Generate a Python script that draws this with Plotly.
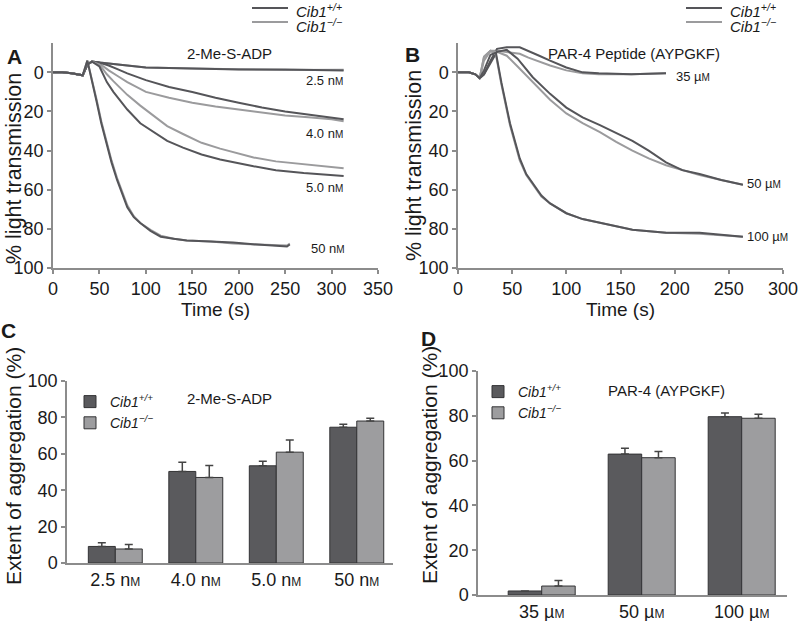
import plotly.graph_objects as go

W, H = 800, 621
FONT = "Liberation Sans, Arial, sans-serif"
DARK = "#555559"
LIGHT = "#9b9b9d"
AXIS = "#8c8c8c"
TXT = "#1a1a1a"

# ---------------- Panel A : 2-Me-S-ADP traces ----------------
A_t_25 = [0, 10, 20, 28, 32, 37, 42, 50, 60, 80, 100, 150, 200, 250, 313]
A_wt_25 = [0, 0, 0.5, 1, 1.5, -4, -5.5, -5, -4.5, -3.5, -2.5, -2, -1.5, -1.5, -1]
A_ko_25 = [0, 0, 0.5, 1, 1.5, -4, -5.5, -5, -4.5, -3.5, -2.5, -2, -1.5, -1.2, -1.3]

A_t_40 = [0, 10, 20, 28, 32, 37, 42, 50, 60, 70, 80, 100, 125, 150, 175, 200, 225, 250, 275, 300, 313]
A_wt_40 = [0, 0, 0.5, 1, 1.5, -4, -5.5, -5, -3.5, -1.5, 0.5, 4, 7.5, 10, 13, 15.5, 18, 20, 21.5, 23, 24]
A_ko_40 = [0, 0, 0.5, 1, 1.5, -4, -5.5, -4.5, -1, 2, 5, 10, 13, 15.5, 17.5, 19, 20.5, 22, 23, 24, 25]

A_t_50 = [0, 10, 20, 28, 32, 37, 42, 50, 58, 65, 72, 80, 94, 110, 123, 140, 160, 180, 200, 216, 240, 270, 313]
A_wt_50 = [0, 0, 0.5, 1, 1.5, -4, -5.5, -3, 5, 10, 14, 19, 26, 31, 35, 38.5, 42, 44.5, 46.5, 48, 50, 51.5, 53]
A_ko_50 = [0, 0, 0.5, 1, 1.5, -4, -5.5, -4, 1, 4.5, 8, 11.5, 17, 23, 27.5, 31.5, 36, 39, 41.5, 43.5, 45.5, 47, 49]

A_t_500 = [0, 10, 20, 28, 32, 37, 42, 47, 52, 58, 63, 69, 75, 80, 87, 94, 105, 116, 130, 144, 170, 194, 220, 252, 255]
A_wt_500 = [0, 0, 0.5, 1, 1.5, -6, 4, 15, 26, 37, 46, 55, 63, 69, 74, 77, 81, 84, 85, 86, 86.5, 87, 88, 89, 88]
A_ko_500 = [0, 0, 0.5, 1, 1.5, -6, 3.5, 14, 25, 36, 45, 54, 62, 68, 73.5, 77, 80.5, 83.5, 85, 86, 86.5, 87.5, 88, 88.5, 87.5]

SM = "<span style='font-size:10px'>M</span>"
A_labels = ["2.5 n" + SM, "4.0 n" + SM, "5.0 n" + SM, "50 n" + SM]
A_label_t = [292, 292, 292, 296]
A_label_v = [4, 31, 59, 90]

# ---------------- Panel B : PAR-4 peptide traces ----------------
B_t_35 = [0, 10, 16, 20, 24, 30, 36, 45, 57, 65, 75, 85, 100, 115, 130, 160, 192]
B_wt_35 = [0, 0, 1, 3, 1, -6, -12, -12.8, -12.8, -11, -8.5, -6, -2.5, 0, 0.5, 1, 0.5]
B_ko_35 = [0, 0, 1, 3, -8, -11, -11, -10.5, -9.5, -7.5, -5.5, -3.5, -1, 0.5, 1, 1, 0.5]

B_t_50 = [0, 10, 16, 20, 24, 30, 36, 45, 55, 69, 85, 100, 115, 131, 146, 161, 176, 192, 207, 223, 243, 263]
B_wt_50 = [0, 0, 1, 3, 1, -5, -10.5, -11.5, -7, 2.5, 11, 18, 23, 27, 31, 35, 40, 46, 50, 52, 55, 57.5]
B_ko_50 = [0, 0, 1, 3, -8, -11, -10.5, -8.5, -3, 5, 14, 21, 26, 30.5, 35.5, 40, 44, 47.5, 50, 52.5, 55, 57.5]

B_t_100 = [0, 10, 16, 20, 24, 30, 35, 40, 48, 57, 63, 69, 77, 85, 100, 115, 131, 146, 161, 192, 223, 263]
B_wt_100 = [0, 0, 1, 3, -1, -9, -10, 5, 26, 44, 52, 57, 63, 67, 72, 75, 77, 79, 80.5, 82, 82, 84]
B_ko_100 = [0, 0, 1, 3, -6, -11, -9, 6, 27, 45, 52.5, 57.5, 63.5, 67, 72, 75, 77, 79, 80.5, 82, 82.5, 84]

B_labels = ["35 µ" + SM, "50 µ" + SM, "100 µ" + SM]
B_label_t = [199, 265, 265]
B_label_v = [2, 57, 84]

# ---------------- Panel C : bar chart 2-Me-S-ADP ----------------
SM2 = "<span style='font-size:12px'>M</span>"
C_cats = ["2.5 n" + SM2, "4.0 n" + SM2, "5.0 n" + SM2, "50 n" + SM2]
C_wt = [9.1, 50.3, 53.4, 74.6]
C_wt_err = [2.0, 5.0, 2.5, 1.6]
C_ko = [7.7, 47.0, 60.9, 78.0]
C_ko_err = [2.4, 6.6, 6.7, 1.5]

# ---------------- Panel D : bar chart PAR-4 ----------------
D_cats = ["35 µ" + SM2, "50 µ" + SM2, "100 µ" + SM2]
D_wt = [1.8, 62.9, 79.6]
D_wt_err = [0.0, 2.6, 1.6]
D_ko = [4.0, 61.3, 78.9]
D_ko_err = [2.5, 2.8, 1.8]

WT_NAME = "<i>Cib1<sup>+/+</sup></i>"
KO_NAME = "<i>Cib1<sup>−/−</sup></i>"

fig = go.Figure()


def add_pair(t, wt, ko, xa, ya):
    fig.add_trace(go.Scatter(x=t, y=ko, mode="lines", line=dict(color=LIGHT, width=2),
                             name=KO_NAME, showlegend=False, xaxis=xa, yaxis=ya))
    fig.add_trace(go.Scatter(x=t, y=wt, mode="lines", line=dict(color=DARK, width=2),
                             name=WT_NAME, showlegend=False, xaxis=xa, yaxis=ya))


add_pair(A_t_25, A_wt_25, A_ko_25, "x", "y")
add_pair(A_t_40, A_wt_40, A_ko_40, "x", "y")
add_pair(A_t_50, A_wt_50, A_ko_50, "x", "y")
add_pair(A_t_500, A_wt_500, A_ko_500, "x", "y")

add_pair(B_t_35, B_wt_35, B_ko_35, "x2", "y2")
add_pair(B_t_50, B_wt_50, B_ko_50, "x2", "y2")
add_pair(B_t_100, B_wt_100, B_ko_100, "x2", "y2")


def add_bars(cats, wt, wte, ko, koe, xa, ya, legend):
    fig.add_trace(go.Bar(x=cats, y=wt, name=WT_NAME, marker=dict(color="#5a5a5d", line=dict(color="#333335", width=1)),
                         error_y=dict(type="data", array=wte, arrayminus=[0] * len(wte), color="#444",
                                      thickness=1.5, width=4),
                         legend=legend, xaxis=xa, yaxis=ya))
    fig.add_trace(go.Bar(x=cats, y=ko, name=KO_NAME, marker=dict(color="#9d9d9f", line=dict(color="#333335", width=1)),
                         error_y=dict(type="data", array=koe, arrayminus=[0] * len(koe), color="#444",
                                      thickness=1.5, width=4),
                         legend=legend, xaxis=xa, yaxis=ya))


add_bars(C_cats, C_wt, C_wt_err, C_ko, C_ko_err, "x3", "y3", "legend")
add_bars(D_cats, D_wt, D_wt_err, D_ko, D_ko_err, "x4", "y4", "legend2")


def px(p):
    return p / W


def py(p):
    return 1 - p / H


tickfont = dict(family=FONT, size=18, color=TXT)
common = dict(showline=True, linecolor=AXIS, linewidth=1.5, ticks="outside", tickcolor=AXIS,
              ticklen=4, tickwidth=1.5, showgrid=False, zeroline=False, tickfont=tickfont,
              automargin=False)
xtitle = dict(text="Time (s)", font=dict(family=FONT, size=19, color=TXT), standoff=2)

layout = dict(
    width=W, height=H, margin=dict(l=0, r=0, t=0, b=0, autoexpand=False),
    paper_bgcolor="white", plot_bgcolor="white",
    font=dict(family=FONT, color=TXT),
    barmode="group", bargap=0.33, bargroupgap=0,
    xaxis=dict(domain=[px(53), px(378)], range=[0, 350], dtick=50, anchor="y", title=xtitle, **common),
    yaxis=dict(domain=[py(268), py(43)], range=[100, -15], tickvals=[0, 20, 40, 60, 80, 100], anchor="x", **common),
    xaxis2=dict(domain=[px(458), px(783)], range=[0, 300], dtick=50, anchor="y2", title=xtitle, **common),
    yaxis2=dict(domain=[py(268), py(43)], range=[100, -15], tickvals=[0, 20, 40, 60, 80, 100], anchor="x2", **common),
    xaxis3=dict(domain=[px(67), px(393)], range=[-0.6, 3.45], anchor="y3", **{**common, "ticks": ""}),
    yaxis3=dict(domain=[py(563), py(381)], range=[0, 100], dtick=20, anchor="x3", **common),
    xaxis4=dict(domain=[px(478), px(787)], range=[-0.637, 2.453], anchor="y4", **{**common, "ticks": ""}),
    yaxis4=dict(domain=[py(595), py(371)], range=[0, 100], dtick=20, anchor="x4", **common),
    legend=dict(x=px(70), y=py(386), xanchor="left", yanchor="top", bgcolor="rgba(0,0,0,0)",
                font=dict(family=FONT, size=14, color=TXT), tracegroupgap=0, itemwidth=30),
    legend2=dict(x=px(478), y=py(376), xanchor="left", yanchor="top", bgcolor="rgba(0,0,0,0)",
                 font=dict(family=FONT, size=14, color=TXT), tracegroupgap=0, itemwidth=30),
)
fig.update_layout(**layout)

ann = []
for lab, t, v in zip(A_labels, A_label_t, A_label_v):
    ann.append(dict(x=t, y=v, xref="x", yref="y", text=lab, showarrow=False, xanchor="center",
                    yanchor="middle", font=dict(family=FONT, size=13, color=TXT)))
for lab, t, v in zip(B_labels, B_label_t, B_label_v):
    ann.append(dict(x=t, y=v, xref="x2", yref="y2", text=lab, showarrow=False, xanchor="left",
                    yanchor="middle", font=dict(family=FONT, size=13, color=TXT)))

# line-style keys for panels A and B (short key lines + their labels)
shapes = []
for x0 in [252, 686]:
    for yy, ty, col, name in [(8, 11, DARK, WT_NAME), (22, 26, LIGHT, KO_NAME)]:
        shapes.append(dict(type="line", xref="paper", yref="paper", x0=px(x0), x1=px(x0 + 36),
                           y0=py(yy), y1=py(yy), line=dict(color=col, width=2)))
        ann.append(dict(x=px(x0 + 42), y=py(ty), xref="paper", yref="paper", text=name, showarrow=False,
                        xanchor="left", yanchor="middle", font=dict(family=FONT, size=15, color=TXT)))


def label(x, y, text, size, angle=0):
    return dict(x=px(x), y=py(y), xref="paper", yref="paper", text=text, showarrow=False,
                xanchor="center", yanchor="middle", textangle=angle,
                font=dict(family=FONT, size=size, color=TXT))


ann += [
    label(229, 53, "2-Me-S-ADP", 15),
    label(634, 53, "PAR-4 Peptide (AYPGKF)", 15),
    label(229, 398, "2-Me-S-ADP", 15),
    label(666, 390, "PAR-4 (AYPGKF)", 15),
    label(14, 57, "<b>A</b>", 21),
    label(412, 55, "<b>B</b>", 21),
    label(8, 330, "<b>C</b>", 21),
    label(428, 338, "<b>D</b>", 21),
    # y-axis titles
    label(14, 169, "% light transmission", 21.5, -90),
    label(414, 165, "% light transmission", 21.5, -90),
    label(13, 466, "Extent of aggregation (%)", 21, -90),
    label(429, 465, "Extent of aggregation (%)", 21, -90),
]
fig.update_layout(annotations=ann, shapes=shapes)

# drop the browser's default 8px page margin so the 800x621 figure fills the window
fig.write_html("out.html", config={"displayModeBar": False},
               post_script="document.body.style.margin='0';document.body.style.overflow='hidden';")
